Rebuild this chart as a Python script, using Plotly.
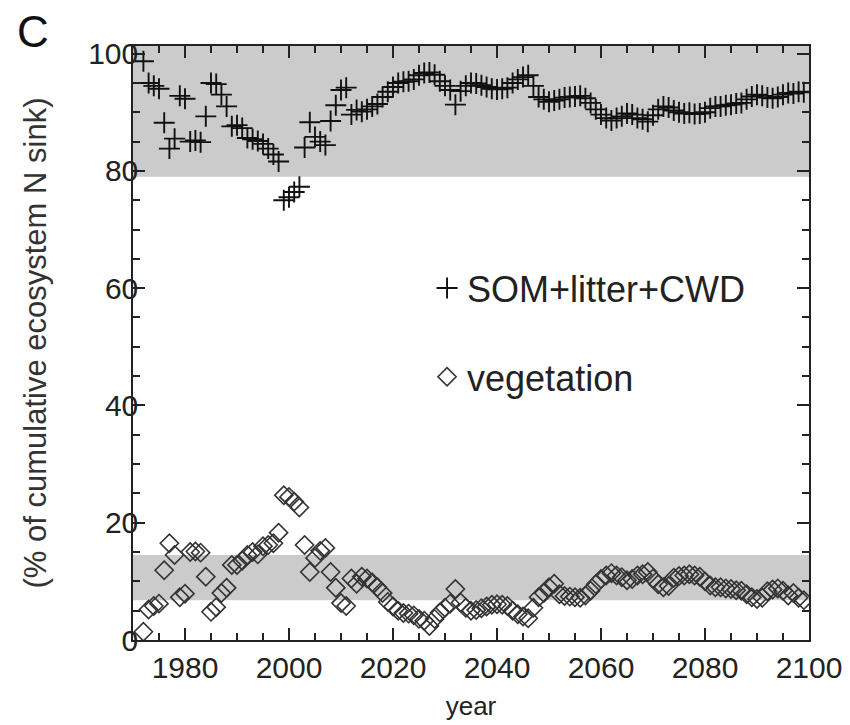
import plotly.graph_objects as go

# years of the simulation (one point per year)
years = list(range(1972, 2100))

# share of cumulative ecosystem N sink in SOM + litter + CWD (%)
som = [98.7, 95.0, 94.5, 94.0, 88.2, 83.8, 85.5, 92.8, 92.3, 85.0,   # 1972-1981
       85.2, 84.9, 89.3, 95.0, 94.8, 93.0, 91.0, 87.6, 87.8, 87.3,   # 1982-1991
       85.6, 85.4, 85.1, 84.6, 83.8, 82.8, 81.6, 75.0, 75.5, 76.4,   # 1992-2001
       77.3, 84.0, 88.3, 85.8, 85.0, 84.4, 88.5, 91.2, 93.8, 94.2,   # 2002-2011
       89.6, 90.4, 90.1, 90.5, 91.0, 91.4, 92.6, 93.5, 94.3, 95.0,   # 2012-2021
       95.2, 95.3, 95.6, 96.3, 96.7, 96.8, 96.4, 95.3, 94.5, 93.8,   # 2022-2031
       91.3, 93.6, 94.5, 95.0, 94.9, 94.6, 94.3, 94.0, 93.9, 94.0,   # 2032-2041
       94.2, 95.0, 95.6, 96.0, 96.3, 94.5, 92.6, 92.2, 91.8, 92.0,   # 2042-2051
       92.2, 92.5, 92.6, 92.7, 92.8, 92.4, 91.6, 90.5, 89.6, 89.0,   # 2052-2061
       88.6, 89.0, 89.3, 89.8, 89.6, 89.0, 88.8, 88.4, 89.5, 90.5,   # 2062-2071
       91.0, 90.8, 90.3, 90.0, 89.8, 89.9, 89.7, 89.8, 90.0, 90.7,   # 2072-2081
       91.0, 91.0, 91.2, 91.3, 91.5, 91.6, 92.2, 92.7, 93.0, 92.8,   # 2082-2091
       92.5, 92.4, 92.6, 93.0, 93.3, 93.2, 93.5, 93.4]               # 2092-2099

# share in vegetation (%)
veg = [1.4, 5.2, 5.8, 6.2, 11.9, 16.5, 14.5, 7.3, 7.9, 15.0,        # 1972-1981
       15.1, 14.9, 10.8, 4.8, 5.6, 8.0, 8.9, 12.8, 12.8, 13.5,       # 1982-1991
       14.5, 15.0, 14.6, 16.0, 16.2, 16.5, 18.3, 24.7, 24.4, 23.6,   # 1992-2001
       22.6, 16.2, 11.6, 14.0, 15.2, 15.7, 11.6, 8.9, 6.3, 5.8,      # 2002-2011
       10.5, 9.6, 10.8, 10.5, 9.8, 9.0, 8.0, 6.5, 5.7, 5.0,          # 2012-2021
       4.6, 4.5, 4.2, 3.6, 3.3, 2.4, 3.6, 4.7, 5.5, 6.2,             # 2022-2031
       8.7, 6.4, 5.5, 5.0, 5.1, 5.4, 5.7, 6.0, 6.1, 6.0,             # 2032-2041
       5.8, 5.0, 4.4, 4.0, 3.7, 5.5, 7.3, 8.0, 9.0, 9.6,             # 2042-2051
       7.8, 7.5, 7.4, 7.3, 7.2, 7.6, 8.4, 9.5, 10.4, 11.0,           # 2052-2061
       11.4, 11.0, 10.7, 10.2, 10.4, 11.0, 11.2, 11.6, 10.5, 9.5,    # 2062-2071
       9.0, 9.2, 10.6, 10.9, 11.0, 11.2, 11.0, 10.8, 10.0, 9.3,      # 2072-2081
       9.0, 9.0, 8.8, 8.7, 8.5, 8.4, 7.8, 7.3, 7.0, 7.2,             # 2082-2091
       8.3, 8.6, 8.8, 8.4, 7.6, 8.0, 7.2, 6.8]                       # 2092-2099

# grey ranges behind the points (lower, upper)
som_band = [79.0, 101.3]
veg_band = [6.8, 14.5]

fnt = "Liberation Sans, Arial, sans-serif"

fig = go.Figure()

fig.add_trace(go.Scatter(x=years, y=som, mode="markers", name="SOM+litter+CWD",
                         legendgroup="a",
                         marker=dict(symbol="cross-thin", size=15, color="#111",
                                     line=dict(width=1.9, color="#111"))))

fig.add_trace(go.Scatter(x=years, y=veg, mode="markers", name="vegetation",
                         legendgroup="b",
                         marker=dict(symbol="diamond-open", size=14, color="#333",
                                     line=dict(width=1.6, color="#333"))))

for b in [som_band, veg_band]:
    fig.add_shape(type="rect", xref="x domain", yref="y", x0=0, x1=1, y0=b[0], y1=b[1],
                  fillcolor="#cbcbcb", line_width=0, layer="below")

fig.update_xaxes(range=[1970, 2100], tick0=1980, dtick=20, ticks="inside", ticklen=12,
                 tickwidth=1.5, tickcolor="#222", showline=True, linecolor="#222",
                 linewidth=1.5, mirror="allticks", showgrid=False, zeroline=False,
                 automargin=False,
                 minor=dict(dtick=5, ticks="inside", ticklen=7, tickwidth=1.5, tickcolor="#222"),
                 tickfont=dict(size=30, color="#222"),
                 title=dict(text="year", font=dict(size=26, color="#222"), standoff=14))

fig.update_yaxes(range=[0, 101.3], tick0=0, dtick=20, ticks="inside", ticklen=12,
                 tickwidth=1.5, tickcolor="#222", showline=True, linecolor="#222",
                 linewidth=1.5, mirror="allticks", showgrid=False, zeroline=False,
                 automargin=False, ticklabelstandoff=-13,
                 minor=dict(dtick=5, ticks="inside", ticklen=7, tickwidth=1.5, tickcolor="#222"),
                 tickfont=dict(size=30, color="#222"),
                 title=dict(text="(% of cumulative ecosystem N sink)",
                            font=dict(size=31, color="#333"), standoff=32))

fig.add_annotation(text="C", xref="paper", yref="paper", x=-0.148, y=1.024,
                   xanchor="center", yanchor="middle", showarrow=False,
                   font=dict(size=44, color="#111"))

# the page puts the figure 8px in from the top-left corner, margins allow for that
fig.update_layout(width=850, height=725, margin=dict(l=125, r=49, t=38, b=93),
                  plot_bgcolor="white", paper_bgcolor="white",
                  font=dict(family=fnt, color="#222"),
                  legend=dict(x=0.435, y=0.643, xanchor="left", yanchor="top",
                              font=dict(size=36, color="#222"), bgcolor="rgba(0,0,0,0)",
                              traceorder="grouped", tracegroupgap=39))

fig.write_html("out.html")
